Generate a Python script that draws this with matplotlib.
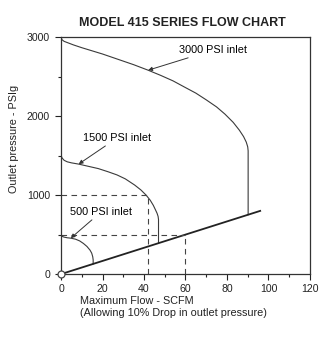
import numpy as np
import matplotlib.pyplot as plt
from matplotlib.ticker import MultipleLocator

plt.rcParams['font.family'] = ['Liberation Sans', 'DejaVu Sans']

# Outlet pressure vs. maximum flow for each inlet pressure
flow_3000 = [0, 0.5, 1.5, 3, 6, 10, 15, 20, 25, 30, 35, 42, 48, 54, 60, 65, 70,
             75, 79, 83, 86, 88, 89.3, 90, 90.2, 90.2]
psi_3000 = [3000, 2965, 2945, 2930, 2900, 2865, 2825, 2785, 2740, 2695, 2650, 2580,
            2515, 2445, 2360, 2290, 2205, 2115, 2025, 1920, 1820, 1740, 1670, 1610,
            1560, 752]

flow_1500 = [0, 0.5, 1.5, 3, 5, 8.5, 13, 18, 22.7, 27, 31, 35.5, 38.5, 41, 43,
             44.5, 45.5, 46.3, 46.8, 47, 47]
psi_1500 = [1506, 1470, 1440, 1421, 1408, 1392, 1365, 1335, 1295, 1255, 1205, 1127,
            1065, 1000, 935, 870, 815, 770, 730, 690, 392]

flow_500 = [0, 0.5, 1.5, 3, 4.7, 7, 9, 10.8, 12.5, 14, 14.8, 15.3, 15.5, 15.5]
psi_500 = [490, 478, 468, 460, 455, 442, 420, 388, 350, 303, 265, 219, 180, 129]

# 10% drop limit line
limit_flow = [0, 96]
limit_psi = [0, 800]

# dashed read-off guides (flow, pressure)
guide_1500 = (42, 1000)
guide_500 = (60, 500)

fig = plt.figure(figsize=(3.28, 3.38), dpi=100)
ax = fig.add_axes([0.186, 0.189, 0.759, 0.7015])

lc = '#3a3a3a'
ax.plot(flow_3000, psi_3000, color=lc, lw=0.8)
ax.plot(flow_1500, psi_1500, color=lc, lw=0.8)
ax.plot(flow_500, psi_500, color=lc, lw=0.8)
ax.plot(limit_flow, limit_psi, color='#222222', lw=1.3)
ax.plot([0], [0], 'o', ms=5, mfc='white', mec='#444444', mew=0.9, clip_on=False, zorder=5)

for fx, py in (guide_1500, guide_500):
    ax.plot([0, fx], [py, py], color='#444444', lw=0.8, ls=(0, (5, 4)))
    ax.plot([fx, fx], [0, py], color='#444444', lw=0.8, ls=(0, (5, 4)))

fs = 7.8
arrow = dict(arrowstyle='-|>', color='#333333', lw=0.7, mutation_scale=6, shrinkA=0, shrinkB=0)
ax.annotate('3000 PSI inlet', xy=(42, 2580), xytext=(57, 2835), fontsize=fs,
            va='center', ha='left', arrowprops=arrow)
ax.annotate('1500 PSI inlet', xy=(8.5, 1392), xytext=(10.5, 1720), fontsize=fs,
            va='center', ha='left', arrowprops=arrow)
ax.annotate('500 PSI inlet', xy=(4.7, 455), xytext=(4.3, 785), fontsize=fs,
            va='center', ha='left', arrowprops=arrow)

ax.set_xlim(0, 120)
ax.set_ylim(0, 3000)
ax.xaxis.set_major_locator(MultipleLocator(20))
ax.xaxis.set_minor_locator(MultipleLocator(10))
ax.yaxis.set_major_locator(MultipleLocator(1000))
ax.yaxis.set_minor_locator(MultipleLocator(500))
ax.tick_params(which='major', length=4, width=0.8, labelsize=7.6, colors='#222222')
ax.tick_params(which='minor', length=2, width=0.8, colors='#222222')
ax.tick_params(axis='x', pad=3)
ax.tick_params(axis='y', pad=4)
for s in ax.spines.values():
    s.set_linewidth(0.9)
    s.set_color('#333333')

fig.text(0.555, 0.932, 'MODEL 415 SERIES FLOW CHART', ha='center', va='center',
         fontsize=9, fontweight='bold', color='#222222')
fig.text(0.043, 0.589, 'Outlet pressure - PSIg', rotation=90, ha='center', va='center',
         fontsize=fs, color='#222222')
fig.text(0.244, 1 - 301 / 338, 'Maximum Flow - SCFM', ha='left', va='center',
         fontsize=fs, color='#222222')
fig.text(0.244, 1 - 313 / 338, '(Allowing 10% Drop in outlet pressure)', ha='left',
         va='center', fontsize=fs, color='#222222')

fig.savefig('out.png', dpi=100, facecolor='white')
